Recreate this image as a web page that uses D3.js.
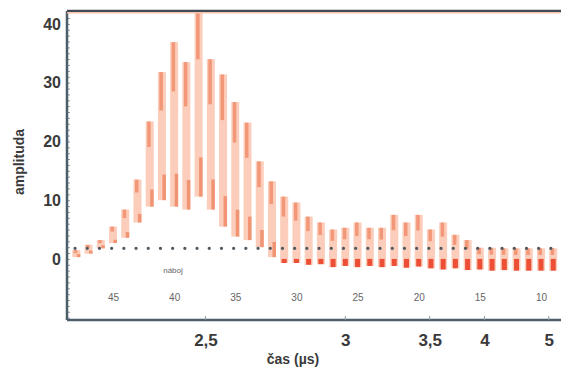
<!DOCTYPE html>
<html>
<head>
<meta charset="utf-8">
<script src="https://cdn.jsdelivr.net/npm/d3@7"></script>
<style>
  body { margin: 0; background: #fff; }
  svg { display: block; font-family: "Liberation Sans", Arial, sans-serif; }
</style>
</head>
<body>
<div id="chart"></div>
<script>
// charge states (náboj) and the signal envelope
const charges = [49, 48, 47, 46, 45, 44, 43, 42, 41, 40, 39, 38, 37, 36, 35, 34, 33, 32, 31, 30,
  29, 28, 27, 26, 25, 24, 23, 22, 21, 20, 19, 18, 17, 16, 15, 14, 13, 12, 11, 10, 9];
const highs = [0.7, 1.5, 2.4, 3.2, 5.5, 8.4, 13.5, 23.4, 31.8, 36.9, 33.5, 44, 34.0, 31.4, 26.7, 23.2, 16.6, 13.2, 10.6, 9.6,
  7.2, 6.2, 5.0, 5.3, 6.2, 5.3, 5.3, 7.5, 6.2, 7.5, 5.0, 6.2, 4.1, 3.2, 1.9, 1.9, 1.8, 1.8, 1.8, 1.8, 1.8];
const lows = [-0.8, 0.3, 0.9, 1.8, 2.7, 3.6, 6.2, 8.9, 10.0, 8.9, 8.4, 10.6, 8.4, 5.5, 3.8, 3.2, 2.0, 0.3, -0.7, -0.7,
  -1.0, -0.9, -1.4, -1.2, -1.4, -1.2, -1.4, -1.2, -1.5, -1.3, -1.6, -1.8, -1.6, -1.9, -1.8, -2.0, -1.9, -2.0, -2.0, -2.0, -2.0];
const threshold = 1.8;

const yTicks = [0, 10, 20, 30, 40];
const chargeTicks = [45, 40, 35, 30, 25, 20, 15, 10];
const timeTicks = [2.5, 3, 3.5, 4, 5];
const K = 234; // q = K / t^2

const W = 561, H = 368;
const margin = { top: 11, right: 0, bottom: 48, left: 67 };
const width = W - margin.left - margin.right;
const height = H - margin.top - margin.bottom;

const svg = d3.select("#chart").append("svg")
  .attr("width", W)
  .attr("height", H);

const g = svg.append("g")
  .attr("transform", "translate(" + margin.left + "," + margin.top + ")");

const x = d3.scaleLinear().domain([45, 10]).range([113 - margin.left, 541 - margin.left]);
const y = d3.scaleLinear().domain([-10.4, 42.2]).range([height, 0]);
const t = d3.scalePow().exponent(-2)
  .domain([Math.sqrt(K / 45), Math.sqrt(K / 10)])
  .range(x.range());

g.append("clipPath").attr("id", "clip")
  .append("rect").attr("width", width).attr("height", height);

const defs = svg.append("defs");
defs.append("filter").attr("id", "soft")
  .append("feGaussianBlur").attr("stdDeviation", 0.7);

const plot = g.append("g").attr("clip-path", "url(#clip)")
  .append("g").attr("filter", "url(#soft)");

const data = charges.map((q, i) => ({ q: q, hi: highs[i], lo: lows[i] }));

// light envelope of each oscillation
plot.selectAll(".band")
  .data(data)
  .enter().append("rect")
  .attr("class", "band")
  .attr("x", d => x(d.q) - 4)
  .attr("width", 8)
  .attr("y", d => y(d.hi))
  .attr("height", d => y(d.lo) - y(d.hi))
  .style("fill", "#fbcdba");

// darker peak strip
plot.selectAll(".peak")
  .data(data)
  .enter().append("rect")
  .attr("class", "peak")
  .attr("x", d => x(d.q) - 2.5)
  .attr("width", 3.5)
  .attr("y", d => y(d.hi))
  .attr("height", d => Math.max(3, (y(d.lo) - y(d.hi)) * 0.3))
  .style("fill", "#f08a68")
  .style("opacity", 0.8);

// darker trough strip
plot.selectAll(".trough")
  .data(data)
  .enter().append("rect")
  .attr("class", "trough")
  .attr("x", d => x(d.q) + (d.lo < 0 ? -2.5 : 0.5))
  .attr("width", d => d.lo < 0 ? 5 : 3.5)
  .attr("y", d => d.lo < 0 ? y(0) : y(d.lo) - Math.max(3, (y(d.lo) - y(d.hi)) * 0.2))
  .attr("height", d => d.lo < 0 ? y(d.lo) - y(0) : Math.max(3, (y(d.lo) - y(d.hi)) * 0.2))
  .style("fill", d => d.lo < 0 ? "#e9391d" : "#ef8a66")
  .style("opacity", 0.85);

// threshold dots
g.append("line")
  .attr("x1", 8).attr("x2", width)
  .attr("y1", y(threshold)).attr("y2", y(threshold))
  .style("stroke", "#4f5a62")
  .style("stroke-width", 3.2)
  .style("stroke-linecap", "round")
  .style("stroke-dasharray", "0.1,12.1");

// y axis
const yAxis = d3.axisLeft(y).tickValues(yTicks).tickSize(0).tickPadding(6);
g.append("g")
  .attr("class", "y axis")
  .call(yAxis)
  .call(s => s.select(".domain").remove())
  .selectAll("text")
  .style("font-size", "16px")
  .style("font-weight", "bold")
  .style("fill", "#3a3a3a");

// minor ticks along the left edge
g.append("g")
  .call(d3.axisRight(y).ticks(52).tickSize(3).tickFormat(""))
  .call(s => s.select(".domain").remove())
  .selectAll("line")
  .style("stroke", "#8a9aa4");

// frame
g.append("line").attr("x1", 0).attr("x2", 0).attr("y1", 0).attr("y2", height)
  .style("stroke", "#4d5e68").style("stroke-width", 2.5);
g.append("line").attr("x1", 0).attr("x2", width).attr("y1", 0).attr("y2", 0)
  .style("stroke", "#3f4c56").style("stroke-width", 2.5);
g.append("line").attr("x1", 0).attr("x2", width).attr("y1", 1.8).attr("y2", 1.8)
  .style("stroke", "#f6c3ae").style("stroke-width", 1.5);
g.append("line").attr("x1", 0).attr("x2", width).attr("y1", height).attr("y2", height)
  .style("stroke", "#4d5e68").style("stroke-width", 2.5);

// charge axis inside the plot
const qAxis = d3.axisBottom(x).tickValues(chargeTicks).tickSize(0);
g.append("g")
  .attr("transform", "translate(0," + (y(-5.5)) + ")")
  .call(qAxis)
  .call(s => s.select(".domain").remove())
  .selectAll("text")
  .style("font-size", "10px")
  .style("fill", "#666");

g.append("text")
  .attr("x", 173 - margin.left)
  .attr("y", y(-2.4))
  .attr("text-anchor", "middle")
  .style("font-size", "8px")
  .style("fill", "#666")
  .text("náboj");

// time axis
const tAxis = d3.axisBottom(t).tickValues(timeTicks).tickSize(0).tickPadding(14)
  .tickFormat(d => String(d).replace(".", ","));
g.append("g")
  .attr("transform", "translate(0," + height + ")")
  .call(tAxis)
  .call(s => s.select(".domain").remove())
  .selectAll("text")
  .style("font-size", "17px")
  .style("font-weight", "bold")
  .style("fill", "#3a3a3a");

g.selectAll(".tt")
  .data(timeTicks)
  .enter().append("line")
  .attr("x1", d => t(d)).attr("x2", d => t(d))
  .attr("y1", height - 4).attr("y2", height)
  .style("stroke", "#8a9aa4");

svg.append("text")
  .attr("x", 293)
  .attr("y", 364)
  .attr("text-anchor", "middle")
  .style("font-size", "14px")
  .style("font-weight", "bold")
  .style("fill", "#3a3a3a")
  .text("čas (µs)");

svg.append("text")
  .attr("transform", "translate(24,162) rotate(-90)")
  .attr("text-anchor", "middle")
  .style("font-size", "14px")
  .style("font-weight", "bold")
  .style("fill", "#3a3a3a")
  .text("amplituda");
</script>
</body>
</html>
